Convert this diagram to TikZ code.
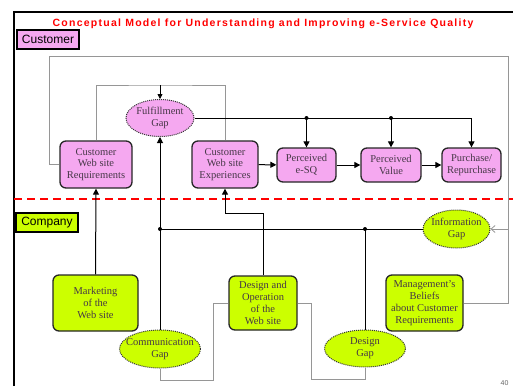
\documentclass[tikz,border=0pt]{standalone}
\usepackage{fontspec}
\setmainfont{Liberation Serif}
\newfontfamily\labelfont{Liberation Sans}
\usetikzlibrary{shapes.geometric,arrows.meta}
\definecolor{custpink}{RGB}{245,168,240}
\definecolor{compgreen}{RGB}{204,255,0}
\definecolor{framegray}{RGB}{150,150,150}
\definecolor{boxtext}{RGB}{70,55,70}
\begin{document}
\begin{tikzpicture}[x=1pt,y=-1pt,
  box/.style={draw=black!85, line width=1.3pt, rounded corners=6pt, align=center,
    inner sep=0pt, font=\fontsize{10.5}{11.8}\selectfont, text=boxtext},
  custbox/.style={box, fill=custpink},
  compbox/.style={box, fill=compgreen},
  gap/.style={ellipse, draw=black!80, densely dotted, line width=1pt, inner sep=0pt},
  gaptext/.style={align=center, inner sep=0pt, font=\fontsize{10.5}{11.8}\selectfont, text=boxtext},
  tag/.style={draw=black, line width=1.2pt, inner sep=0pt, minimum width=62pt,
    minimum height=19pt, font=\labelfont\fontsize{12}{12}\selectfont},
  flow/.style={line width=1pt, -{Triangle[length=6pt,width=6pt]}},
  link/.style={line width=1pt},
  feed/.style={draw=framegray, line width=0.8pt},
  dot/.style={circle, fill=black, inner sep=0pt, minimum size=4pt}
]
\useasboundingbox (0,0) rectangle (513,386);
\fill[white] (0,0) rectangle (513,386);

% slide frame
\draw[line width=1.2pt] (14,386) -- (14,12) -- (513,12);

% title and area tags
\node[text=red, font=\labelfont\bfseries\fontsize{10.5}{10.5}\selectfont\addfontfeature{LetterSpace=12}]
  (title) at (263,24) {Conceptual Model for Understanding and Improving e-Service Quality};
\node[tag, fill=custpink] (custtag) at (48,39.5) {Customer};
\node[tag, fill=compgreen] (comptag) at (47,222.5) {Company};

% customer / company divider
\draw[red, line width=1.6pt, dash pattern=on 8pt off 5pt] (14,199) -- (513,199);

% customer side
\node[custbox, minimum width=72pt, minimum height=47pt] (req) at (96,164.5) {Customer\\Web site\\Requirements};
\node[custbox, minimum width=66pt, minimum height=47pt] (exp) at (225,164.5) {Customer\\Web site\\Experiences};
\node[custbox, minimum width=59pt, minimum height=34pt] (esq) at (306.5,165) {Perceived\\e-SQ};
\node[custbox, minimum width=60pt, minimum height=34pt] (val) at (391,165) {Perceived\\Value};
\node[custbox, minimum width=59pt, minimum height=34pt] (pur) at (471.5,165) {Purchase/\\Repurchase};
\node[gap, fill=custpink, minimum width=68pt, minimum height=37pt,
  label={[gaptext]center:Fulfillment\\Gap}] (fgap) at (160,118) {};

% company side
\node[compbox, minimum width=85pt, minimum height=56pt] (mkt) at (95.5,303) {Marketing\\of the\\Web site};
\node[compbox, minimum width=68pt, minimum height=54pt] (des) at (263,303) {Design and\\Operation\\of the\\Web site};
\node[compbox, minimum width=77pt, minimum height=56pt] (mgmt) at (424.5,303) {Management's\\Beliefs\\about Customer\\Requirements};
\node[gap, fill=compgreen, minimum width=81pt, minimum height=38pt,
  label={[gaptext]center:Communication\\Gap}] (cgap) at (160,349) {};
\node[gap, fill=compgreen, minimum width=81pt, minimum height=37pt,
  label={[gaptext]center:Design\\Gap}] (dgap) at (365,348.5) {};
\node[gap, fill=compgreen, minimum width=67pt, minimum height=38pt,
  label={[gaptext]center:Information\\Gap}] (igap) at (456.5,229) {};

% junction points
\coordinate (top) at (160,85);
\coordinate (j1) at (306.5,118);
\coordinate (j2) at (391,118);
\coordinate (j3) at (471.5,118);
\coordinate (k1) at (160,229);
\coordinate (k2) at (365,229);
\coordinate (bend) at (263,213);

% gray feedback loops
\draw[feed] (req.west) -- (49,164.5) -- (49,56) -- (508,56) -- (508,229);
\draw[feed, -{Straight Barb[length=4pt,width=7pt]}] (mgmt.east) -- (508,303) -- (508,229) -- (igap.east);
\draw[feed] (req.north) |- (top) -| (exp.north);
\draw[flow, line width=0.8pt, -{Triangle[length=5pt,width=5pt]}] (top) -- (fgap.north);
\draw[feed] (des.west) -- (213,303) -- (213,380) -- (160,380) -- (cgap.south);
\draw[feed] (des.east) -- (311,303) -- (311,379) -- (365,379) -- (dgap.south);

% fulfillment gap outcomes
\draw[link] (fgap.east) -- (j3);
\draw[flow] (j1) -- (esq.north);
\draw[flow] (j2) -- (val.north);
\draw[flow] (j3) -- (pur.north);
\node[dot] (d1) at (j1) {};
\node[dot] (d2) at (j2) {};

% customer chain
\draw[flow] (exp) -- (esq);
\draw[flow] (esq) -- (val);
\draw[flow] (val) -- (pur);

% company influences
\draw[flow] (mkt.north) -- (req.south);
\draw[flow] (cgap.north) -- (fgap.south);
\draw[link] (k1) -- (igap.west);
\draw[link] (k2) -- (dgap.north);
\draw[flow] (des.north) -- (bend) -- (225,213) -- (exp.south);
\node[dot] (d3) at (k1) {};
\node[dot] (d4) at (k2) {};

% page number
\node[text=black!60, font=\labelfont\fontsize{7}{7}\selectfont, anchor=east] (page) at (512,383) {40};
\end{tikzpicture}
\end{document}
